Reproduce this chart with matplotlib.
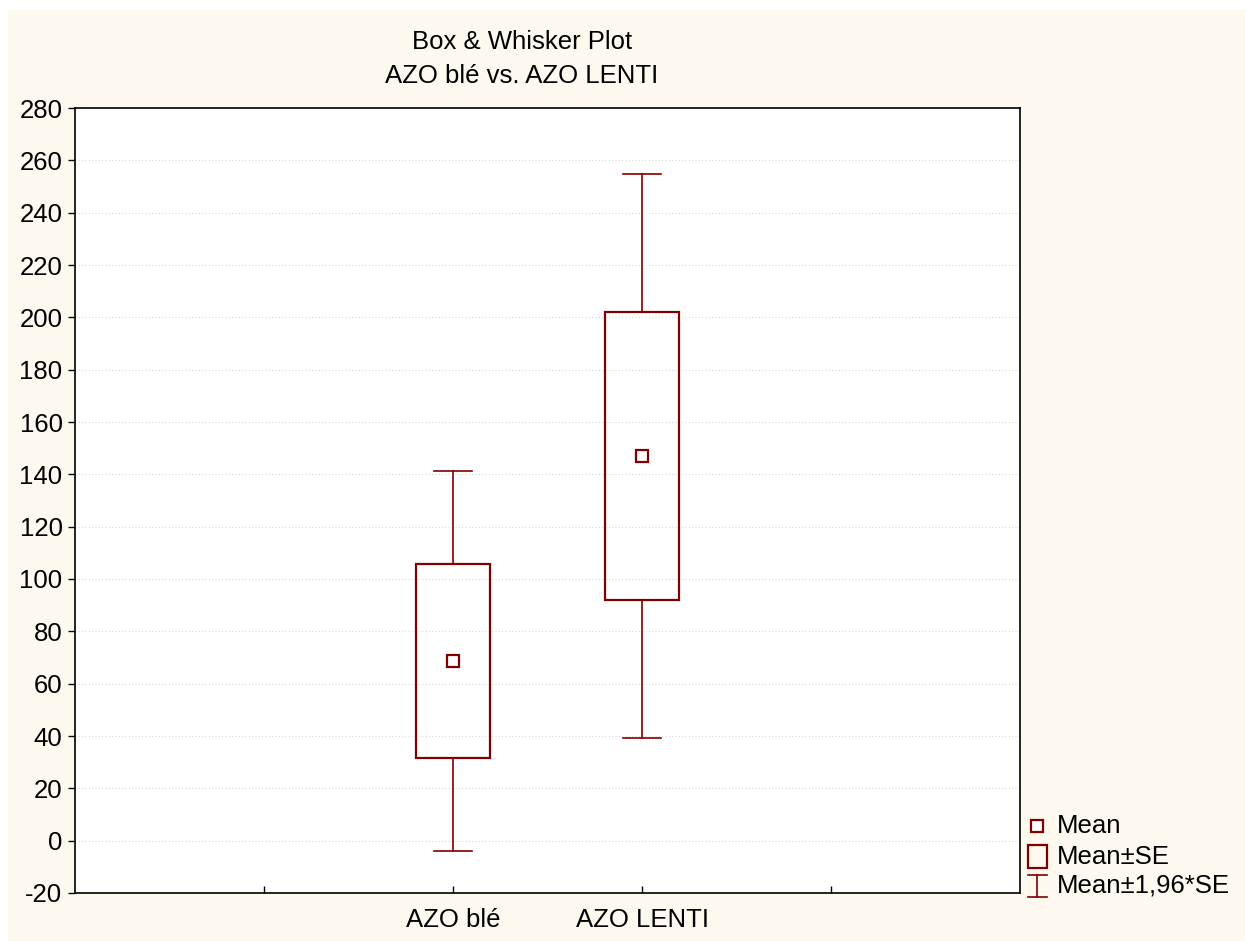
#!/usr/bin/env python3
# -*- coding: utf-8 -*-

import numpy as np
import matplotlib
matplotlib.use("Agg")
import matplotlib.pyplot as plt
from matplotlib.patches import Rectangle
from matplotlib.lines import Line2D

plt.rcParams['font.family'] = ['Liberation Sans', 'DejaVu Sans']
plt.rcParams['axes.unicode_minus'] = False

# data
groups = ["AZO blé", "AZO LENTI"]
means = [68.6, 147.0]
se = [37.1, 55.0]
ci_factor = 1.96
yticks = list(range(-20, 281, 20))

dark_red = "#800000"
cream = "#fdf9ee"
fs = 18.5

fig = plt.figure(figsize=(12.45, 9.41), dpi=100)
fig.patch.set_facecolor("white")
# cream background, with a thin white strip at the top and left
fig.add_artist(Rectangle((8 / 1245, 0), 1, 1 - 10 / 941, transform=fig.transFigure,
                         facecolor=cream, edgecolor="none", zorder=-10))

ax = fig.add_axes([75 / 1245, 1 - 893 / 941, (1020 - 75) / 1245, (893 - 108) / 941])
ax.set_facecolor("white")

xpos = np.arange(len(groups)) + 2
box_w = 0.39
cap_w = 0.2
for x, m, s in zip(xpos, means, se):
    lo, hi = m - s, m + s
    wlo, whi = m - ci_factor * s, m + ci_factor * s
    ax.add_patch(Rectangle((x - box_w / 2, lo), box_w, hi - lo, facecolor="none",
                           edgecolor=dark_red, linewidth=1.6, zorder=3))
    ax.plot([x, x], [hi, whi], color=dark_red, lw=1.2, zorder=3)
    ax.plot([x, x], [wlo, lo], color=dark_red, lw=1.2, zorder=3)
    ax.plot([x - cap_w / 2, x + cap_w / 2], [whi, whi], color=dark_red, lw=1.2, zorder=3)
    ax.plot([x - cap_w / 2, x + cap_w / 2], [wlo, wlo], color=dark_red, lw=1.2, zorder=3)
    ax.plot([x], [m], marker="s", markersize=8, markerfacecolor="white",
            markeredgecolor=dark_red, markeredgewidth=1.6, zorder=4)

ax.set_xlim(0, 5)
ax.set_ylim(-20, 280)
ax.set_yticks(yticks)
ax.set_xticks([1, 2, 3, 4])
ax.set_xticklabels(["", groups[0], groups[1], ""])
ax.tick_params(axis="y", direction="out", length=5, width=1, labelsize=fs, pad=4)
ax.tick_params(axis="x", direction="in", length=5, width=1, labelsize=fs, pad=11)
ax.yaxis.grid(True, linestyle=(0, (1, 2)), color="#d8d8d8", linewidth=0.8)
ax.set_axisbelow(True)
for sp in ax.spines.values():
    sp.set_linewidth(1.2)

fig.text(522 / 1245, 1 - 42 / 941, "Box & Whisker Plot", ha="center", va="center", fontsize=fs)
fig.text(522 / 1245, 1 - 76 / 941, "AZO blé vs. AZO LENTI", ha="center", va="center", fontsize=fs)

# legend drawn by hand
def fx(px):
    return px / 1245

def fy(py):
    return 1 - py / 941

fig.add_artist(Line2D([fx(1037)], [fy(826)], marker="s", markersize=8, markerfacecolor="white",
                      markeredgecolor=dark_red, markeredgewidth=1.6, transform=fig.transFigure))
fig.add_artist(Rectangle((fx(1028), fy(868)), fx(19), 23 / 941, transform=fig.transFigure,
                         facecolor="none", edgecolor=dark_red, linewidth=1.6))
fig.add_artist(Line2D([fx(1037), fx(1037)], [fy(875), fy(897)], color=dark_red, lw=1.2,
                      transform=fig.transFigure))
fig.add_artist(Line2D([fx(1028), fx(1047)], [fy(875), fy(875)], color=dark_red, lw=1.2,
                      transform=fig.transFigure))
fig.add_artist(Line2D([fx(1028), fx(1047)], [fy(897), fy(897)], color=dark_red, lw=1.2,
                      transform=fig.transFigure))
for py, label in [(826, "Mean"), (857, "Mean±SE"), (886, "Mean±1,96*SE")]:
    fig.text(fx(1057), fy(py), label, ha="left", va="center", fontsize=fs)

fig.savefig("out.png", dpi=100, facecolor=fig.get_facecolor())
